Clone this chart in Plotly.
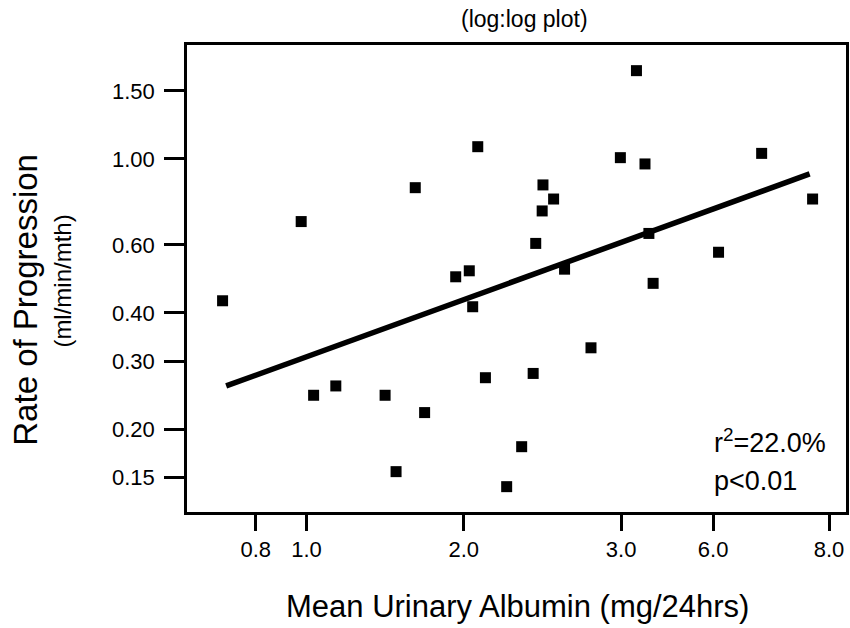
import plotly.graph_objects as go

# Data (log:log plot)
albumin = [0.691, 0.977, 1.032, 1.138, 1.414, 1.484, 1.615, 1.683, 1.930, 2.049,
           2.080, 2.127, 2.200, 2.416, 2.581, 2.715, 2.746, 2.825, 2.835, 2.971,
           3.118, 3.503, 3.987, 4.280, 4.444, 4.521, 4.606, 6.145, 7.43, 9.30]
progression = [0.430, 0.689, 0.245, 0.259, 0.245, 0.1555, 0.843, 0.221, 0.496, 0.514,
               0.415, 1.076, 0.272, 0.1422, 0.1804, 0.279, 0.605, 0.734, 0.857, 0.788,
               0.519, 0.325, 1.008, 1.692, 0.971, 0.642, 0.477, 0.574, 1.034, 0.788]

# Regression line end points
fit_x = [0.702, 9.18]
fit_y = [0.259, 0.915]

# Tick positions and the labels printed on the original figure
x_tickvals = [0.8, 1, 2, 4, 6, 10]
x_ticktext = ["0.8", "1.0", "2.0", "3.0", "6.0", "8.0"]
y_tickvals = [0.15, 0.2, 0.3, 0.4, 0.6, 1.0, 1.5]
y_ticktext = ["0.15", "0.20", "0.30", "0.40", "0.60", "1.00", "1.50"]

FONT = "Liberation Sans, Arial, sans-serif"

fig = go.Figure()
fig.add_trace(go.Scatter(
    x=fit_x, y=fit_y, mode="lines",
    line=dict(color="black", width=5.5), showlegend=False, hoverinfo="skip"))
fig.add_trace(go.Scatter(
    x=albumin, y=progression, mode="markers",
    marker=dict(symbol="square", size=11, color="black"), showlegend=False))

fig.update_layout(
    width=850, height=628,
    margin=dict(l=187, r=1, t=45, b=116),
    paper_bgcolor="white", plot_bgcolor="white",
    font=dict(family=FONT, color="black"),
    xaxis=dict(type="log", range=[-0.2286, 1.0324],
               tickvals=x_tickvals, ticktext=x_ticktext,
               ticks="outside", ticklen=16, tickwidth=2.5, tickcolor="black",
               showline=True, linecolor="black", linewidth=2.5, mirror=True,
               showgrid=False, zeroline=False,
               tickfont=dict(size=22, family=FONT, color="black")),
    yaxis=dict(type="log", range=[-0.9126, 0.2947],
               tickvals=y_tickvals, ticktext=y_ticktext,
               ticks="outside", ticklen=20, tickwidth=2.5, tickcolor="black",
               ticklabelstandoff=5,
               showline=True, linecolor="black", linewidth=2.5, mirror=True,
               showgrid=False, zeroline=False,
               tickfont=dict(size=22, family=FONT, color="black")),
)

ann = [
    dict(text="(log:log plot)", x=0.512, y=1.0557, font=dict(size=23),
         xanchor="center", yanchor="middle"),
    dict(text="Mean Urinary Albumin (mg/24hrs)", x=0.5015, y=-0.2013,
         font=dict(size=31), xanchor="center", yanchor="middle"),
    dict(text="Rate of Progression", x=-0.2447, y=0.454, textangle=-90,
         font=dict(size=33), xanchor="center", yanchor="middle"),
    dict(text="(ml/min/mth)", x=-0.1903, y=0.4946, textangle=-90,
         font=dict(size=24), xanchor="center", yanchor="middle"),
    dict(text="r<sup>2</sup>=22.0%", x=0.796, y=0.152,
         font=dict(size=27), xanchor="left", yanchor="middle"),
    dict(text="p<0.01", x=0.796, y=0.066,
         font=dict(size=27), xanchor="left", yanchor="middle"),
]
for a in ann:
    a.update(xref="paper", yref="paper", showarrow=False)
    a["font"].update(family=FONT, color="black")
    fig.add_annotation(**a)

fig.write_html("out.html",
               config={"displayModeBar": False},
               post_script="document.body.style.margin='0';"
                           "document.body.style.overflow='hidden';")
